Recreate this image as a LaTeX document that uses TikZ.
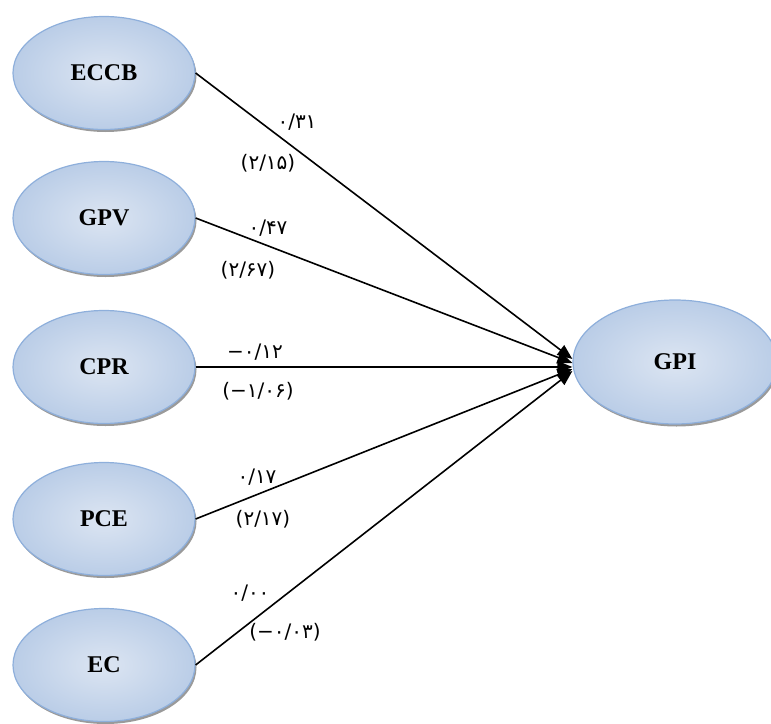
\documentclass[tikz,border=0pt]{standalone}
\usepackage{fontspec}
\setmainfont{Liberation Serif}
\newfontfamily\persfont{DejaVu Sans}
\usetikzlibrary{shapes.geometric, arrows.meta, positioning, shadows}
\definecolor{pathblue}{HTML}{DCE5F2}
\definecolor{pathbluedark}{HTML}{BACDE7}
\definecolor{pathblueedge}{HTML}{8EAFDB}
\definecolor{pathshadow}{HTML}{9A9A9A}

\begin{document}
\begin{tikzpicture}[x=1pt, y=-1pt,
    latent/.style={ellipse, draw=pathblueedge, line width=1.2pt, shading=radial, inner color=pathblue, outer color=pathbluedark, minimum width=182pt, minimum height=113pt, font=\fontsize{24}{24}\selectfont\bfseries, drop shadow={shadow xshift=1.5pt, shadow yshift=-2.5pt, fill=pathshadow, opacity=1}},
    coef/.style={font=\persfont\fontsize{20}{20}\selectfont, inner sep=0pt},
    arr/.style={-{Triangle[length=15pt, width=12pt]}, line width=1.6pt, black}
  ]
    \useasboundingbox (0,0) rectangle (771,723);
    \node[latent] (eccb) at (104,73) {ECCB};
    \node[latent] (gpv) at (104,218) {GPV};
    \node[latent] (cpr) at (104,367) {CPR};
    \node[latent] (pce) at (104,519) {PCE};
    \node[latent] (ec) at (104,665) {EC};
    \node[latent, minimum width=204pt, minimum height=124pt] (gpi) at (675,362) {GPI};
    \draw[arr] (eccb.east) -- ([yshift=3pt]gpi.west);
    \draw[arr] (gpv.east) -- ([yshift=-1pt]gpi.west);
    \draw[arr] (cpr.east) -- ([yshift=-5pt]gpi.west);
    \draw[arr] (pce.east) -- ([yshift=-7pt]gpi.west);
    \draw[arr] (ec.east) -- ([yshift=-9pt]gpi.west);
    % coefficients and t-values
    \node[coef] (b1) at (297,122) {۰/۳۱};
    \node[coef] (t1) at (268,163) {(۲/۱۵)};
    \node[coef] (b2) at (268,228) {۰/۴۷};
    \node[coef] (t2) at (248,270) {(۲/۶۷)};
    \node[coef] (b3) at (255,352) {−۰/۱۲};
    \node[coef] (t3) at (258,391) {(−۱/۰۶)};
    \node[coef] (b4) at (257,477) {۰/۱۷};
    \node[coef] (t4) at (263,519) {(۲/۱۷)};
    \node[coef] (b5) at (250,593) {۰/۰۰};
    \node[coef] (t5) at (285,632) {(−۰/۰۳)};
  \end{tikzpicture}
\end{document}
